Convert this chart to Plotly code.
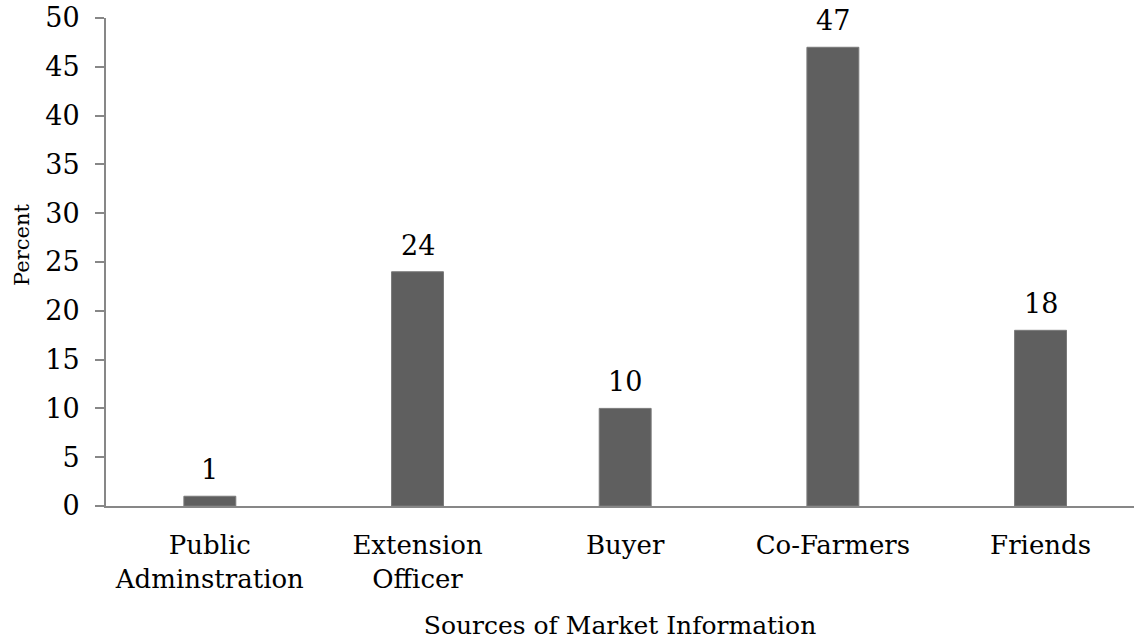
import plotly.graph_objects as go

categories = ["Public<br>Adminstration", "Extension<br>Officer", "Buyer", "Co-Farmers", "Friends"]
values = [1, 24, 10, 47, 18]
y_ticks = [0, 5, 10, 15, 20, 25, 30, 35, 40, 45, 50]

FONT = "DejaVu Serif"
AXIS_COLOR = "#878787"

fig = go.Figure()
fig.add_trace(go.Bar(
    x=list(range(len(categories))),
    y=values,
    width=0.25,
    marker=dict(color="#5f5f5f", line=dict(color="#7a7a7a", width=1)),
    showlegend=False,
    hoverinfo="skip",
))

for i, v in enumerate(values):
    fig.add_annotation(
        x=i, y=v, text=str(v), showarrow=False,
        yanchor="bottom", yshift=9,
        font=dict(family=FONT, size=27, color="black"),
    )

fig.add_annotation(
    x=0, xref="paper", xanchor="center", xshift=-84,
    y=0.535, yref="paper", yanchor="middle",
    text="Percent", textangle=-90, showarrow=False,
    font=dict(family=FONT, size=21, color="black"),
)

fig.update_layout(
    width=1134, height=640,
    margin=dict(l=106, r=0, t=18, b=134),
    paper_bgcolor="white", plot_bgcolor="white",
    font=dict(family=FONT, size=25, color="black"),
    bargap=0.75,
)

fig.update_xaxes(
    range=[-0.5, 4.45],
    tickmode="array",
    tickvals=list(range(len(categories))),
    ticktext=categories,
    showline=True, linecolor=AXIS_COLOR, linewidth=2,
    ticks="", showgrid=False, zeroline=False,
    tickfont=dict(family=FONT, size=26, color="black"),
    ticklabelstandoff=15,
    title=dict(text="Sources of Market Information",
               font=dict(family=FONT, size=25, color="black"), standoff=24),
    automargin=False,
)

fig.update_yaxes(
    range=[0, 50],
    tickmode="array", tickvals=y_ticks,
    showline=True, linecolor=AXIS_COLOR, linewidth=2,
    ticks="outside", ticklen=9, tickcolor=AXIS_COLOR, tickwidth=2,
    showgrid=False, zeroline=False,
    tickfont=dict(family=FONT, size=27, color="black"),
    ticklabelstandoff=10,
    ticklabeloverflow="allow",
    automargin=False,
)

fig.write_html("out.html", config={"displayModeBar": False},
               post_script="document.body.style.margin='0';")
